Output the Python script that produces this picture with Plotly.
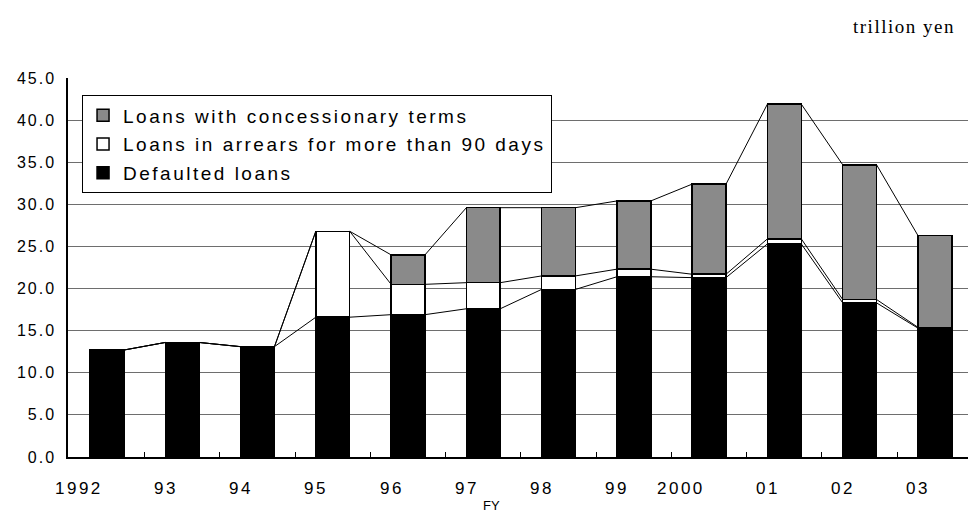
import plotly.graph_objects as go

years = ["1992", "93", "94", "95", "96", "97", "98", "99", "2000", "01", "02", "03"]
defaulted = [12.7, 13.6, 13.1, 16.6, 16.9, 17.6, 19.9, 21.4, 21.3, 25.3, 18.3, 15.3]
arrears = [0.0, 0.0, 0.0, 10.2, 3.6, 3.1, 1.6, 0.9, 0.4, 0.6, 0.4, 0.1]
concessionary = [0.0, 0.0, 0.0, 0.0, 3.5, 8.9, 8.1, 8.1, 10.7, 16.0, 16.0, 10.9]
y_ticks = [0, 5, 10, 15, 20, 25, 30, 35, 40, 45]

FONT = "Liberation Sans, Arial, sans-serif"
BAR_W = 0.45


def spaced(t, ls):
    return f"<span style='letter-spacing:{ls}px'>{t}</span>"


xs = list(range(len(years)))
fig = go.Figure()

series = [
    ("Defaulted loans", defaulted, "#000000", "g1", 3),
    ("Loans in arrears for more than 90 days", arrears, "#ffffff", "g2", 2),
    ("Loans with concessionary terms", concessionary, "#8a8a8a", "g3", 1),
]
for name, vals, col, grp, rank in series:
    fig.add_trace(go.Bar(
        x=xs, y=vals, name=spaced(name, 2.5), width=BAR_W,
        marker=dict(color=col, line=dict(color="#000000", width=1.5)),
        legendgroup=grp, legendrank=rank, hoverinfo="skip",
    ))

# series lines connecting cumulative tops of stacked segments
cum1 = defaulted
cum2 = [a + b for a, b in zip(defaulted, arrears)]
cum3 = [a + b for a, b in zip(cum2, concessionary)]
for cum in (cum1, cum2, cum3):
    lx, ly = [], []
    for i in range(len(xs) - 1):
        lx += [xs[i] + BAR_W / 2, xs[i + 1] - BAR_W / 2, None]
        ly += [cum[i], cum[i + 1], None]
    fig.add_trace(go.Scatter(x=lx, y=ly, mode="lines",
                             line=dict(color="#000000", width=1),
                             showlegend=False, hoverinfo="skip"))

annotations = []
for i, lab in enumerate(years):
    annotations.append(dict(
        x=xs[i] - 0.033, xref="x", y=-0.0828, yref="paper",
        xanchor="right", yanchor="middle", showarrow=False,
        text=spaced(lab, 2.5), font=dict(family=FONT, size=17, color="#000"),
    ))
annotations.append(dict(
    x=0.471, xref="paper", y=-0.128, yref="paper", xanchor="center",
    yanchor="middle", showarrow=False, text="FY",
    font=dict(family=FONT, size=13, color="#000"),
))
annotations.append(dict(
    x=0.9878, xref="paper", y=1.136, yref="paper", xanchor="right",
    yanchor="middle", showarrow=False, text=spaced("trillion yen", 1.5),
    font=dict(family="Liberation Serif, Times New Roman, serif", size=19, color="#000"),
))

fig.update_layout(
    width=968, height=516,
    margin=dict(l=68, r=0, t=78, b=59),
    paper_bgcolor="white", plot_bgcolor="white",
    barmode="stack",
    font=dict(family=FONT, color="#000"),
    showlegend=True,
    legend=dict(
        x=0.0156, y=0.954, xanchor="left", yanchor="top",
        traceorder="grouped", tracegroupgap=1,
        bordercolor="#000", borderwidth=1, bgcolor="white",
        font=dict(family=FONT, size=19, color="#000"),
    ),
    xaxis=dict(
        range=[-0.518, 11.44], showgrid=False, zeroline=False,
        showline=True, linecolor="#000", linewidth=1.5,
        tickvals=[i + 0.5 for i in range(len(years) - 1)],
        ticks="inside", ticklen=5, tickcolor="#000", showticklabels=False,
    ),
    yaxis=dict(
        range=[0, 45], tickvals=y_ticks,
        ticktext=[spaced(f"{v:.1f}", 2) for v in y_ticks],
        showgrid=True, gridcolor="#6e6e6e", gridwidth=1, zeroline=False,
        showline=True, linecolor="#000", linewidth=1.5, ticks="",
        ticklabelstandoff=7,
        tickfont=dict(family=FONT, size=16, color="#000"),
    ),
    annotations=annotations,
)

fig.write_html("out.html")
